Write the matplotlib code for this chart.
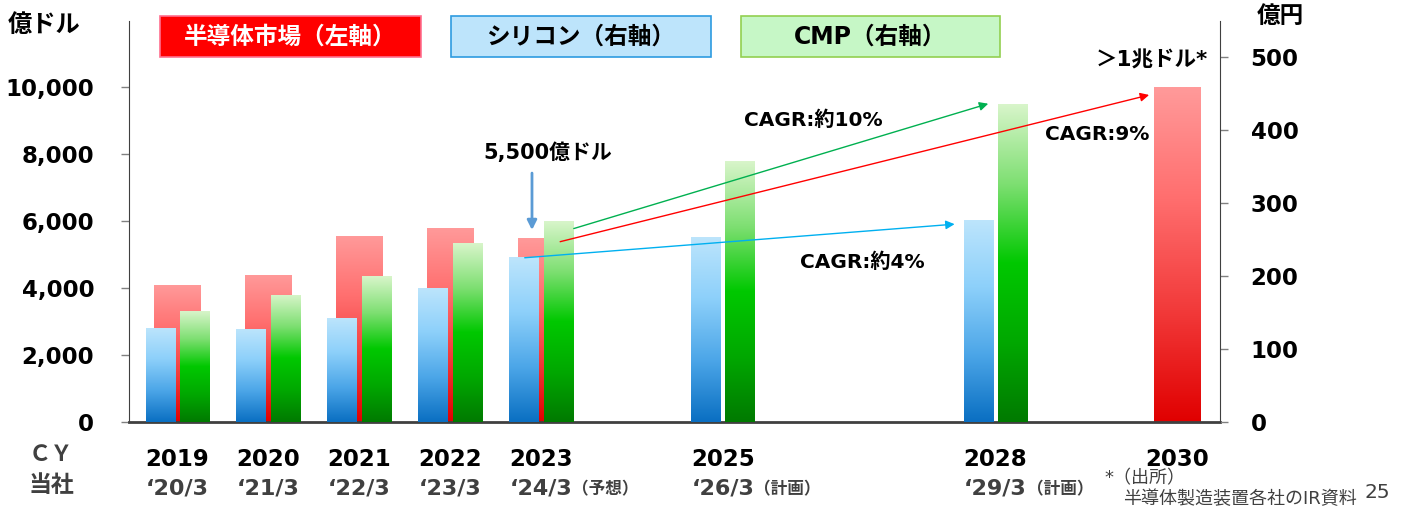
"""Semiconductor market vs silicon / CMP market, with CAGR arrows."""

import numpy as np
import matplotlib.pyplot as plt
from matplotlib.colors import LinearSegmentedColormap
from matplotlib.patches import Rectangle
from matplotlib.ticker import FuncFormatter
import matplotlib.transforms as mtransforms

plt.rcParams['font.family'] = ['DejaVu Sans', 'Noto Sans CJK JP']

W, H = 1404, 512

# data
years = [2019, 2020, 2021, 2022, 2023, 2025, 2028, 2030]
fiscal = ['‘20/3', '‘21/3', '‘22/3', '‘23/3', '‘24/3', '‘26/3', '‘29/3', '']
fiscal_note = ['', '', '', '', '（予想）', '（計画）', '（計画）', '']
market = [4100, 4400, 5560, 5800, 5500, np.nan, np.nan, 10000]   # 億ドル, left
silicon = [129, 128, 143, 184, 226, 254, 277, np.nan]            # 億円, right
cmp_ = [152, 174, 200, 245, 275, 357, 435, np.nan]               # 億円, right

left_ticks = [0, 2000, 4000, 6000, 8000, 10000]
right_ticks = [0, 100, 200, 300, 400, 500]

# CAGR arrows (right-axis coords): start, end, colour
arrows = [
    ((4.36, 265), (8.92, 436), '#00B050'),
    ((4.21, 247), (10.69, 448), '#FF0000'),
    ((3.82, 225), (8.55, 271), '#00B0F0'),
]

BLUE = ['#0A6FC2', '#4CA6E8', '#8DD0FA', '#BDE5FC']
GREEN = ['#007A00', '#00A800', '#00C800', '#7EDF72', '#D8F5CA']
RED = ['#E00000', '#F23A3A', '#FF6E6E', '#FF9A9A']


def px(x, y):
    return x / W, 1 - y / H


def gradient_bar(axis, x, h, w, colors, z):
    if np.isnan(h):
        return
    patch = axis.bar(x, h, w, color='none', linewidth=0, zorder=z)[0]
    cmap = LinearSegmentedColormap.from_list('g', colors)
    grad = np.linspace(0, 1, 256).reshape(-1, 1)
    im = axis.imshow(grad, cmap=cmap, extent=(x - w / 2, x + w / 2, 0, h),
                     origin='lower', aspect='auto', zorder=z,
                     interpolation='bilinear')
    im.set_clip_path(patch)


fig = plt.figure(figsize=(W / 100, H / 100), dpi=100)
ax = fig.add_axes([129 / W, 1 - 422 / H, (1220 - 129) / W, (422 - 20.5) / H])
ax2 = ax.twinx()

xs = [y - 2019 for y in years]
for x, m, s, c in zip(xs, market, silicon, cmp_):
    gradient_bar(ax, x + 0.005, m, 0.517, RED, 2)
    gradient_bar(ax2, x - 0.187, s, 0.33, BLUE, 2)
    gradient_bar(ax2, x + 0.187, c, 0.32, GREEN, 2)

ax.set_xlim(-0.534, 11.47)
ax.set_ylim(0, 12000)
ax2.set_ylim(0, 550)
ax.set_xticks([])

ax.set_yticks(left_ticks)
ax2.set_yticks(right_ticks)
ax.yaxis.set_major_formatter(FuncFormatter(lambda v, p: f'{int(v):,}'))
for a in (ax, ax2):
    a.spines['top'].set_visible(False)
    a.tick_params(axis='y', length=6, width=1, color='#808080', labelsize=16.5)
    for t in a.get_yticklabels():
        t.set_fontweight('bold')
ax.tick_params(axis='y', pad=19)
ax2.tick_params(axis='y', pad=16)
ax.spines['left'].set_color('#404040')
ax2.spines['right'].set_color('#404040')
ax2.spines['left'].set_visible(False)
ax2.spines['bottom'].set_visible(False)
ax.spines['right'].set_visible(False)
ax.spines['bottom'].set_color('#404040')
ax.spines['bottom'].set_linewidth(2)

# CAGR arrows
for start, end, col in arrows:
    ax2.annotate('', xy=end, xytext=start,
                 arrowprops=dict(arrowstyle='-|>', color=col, lw=1,
                                 mutation_scale=13, shrinkA=0, shrinkB=0),
                 zorder=6)
# 5,500 arrow
ax2.annotate('', xy=(3.90, 263), xytext=(3.90, 341),
             arrowprops=dict(arrowstyle='-|>', color='#5B9BD5', lw=2,
                             mutation_scale=14, shrinkA=0, shrinkB=0),
             zorder=6)

# x labels
trans = mtransforms.blended_transform_factory(ax.transData, fig.transFigure)
for x, yr, fy, note in zip(xs, years, fiscal, fiscal_note):
    ax.text(x, px(0, 460)[1], str(yr), transform=trans, ha='center',
            va='center', fontsize=16.5, fontweight='bold', clip_on=False)
    if fy:
        t = ax.text(x, px(0, 488)[1], fy, transform=trans, ha='center',
                    va='center', fontsize=16, fontweight='bold',
                    color='#404040', clip_on=False)
        if note:
            ax.annotate(note, xy=(1, 0.45), xycoords=t, ha='left',
                        va='center', fontsize=12, fontweight='bold',
                        color='#404040')

fig.text(*px(29, 455), 'ＣＹ', ha='left', va='center', fontsize=16,
         fontweight='bold', color='#404040')
fig.text(*px(29, 485), '当社', ha='left', va='center', fontsize=16.5,
         fontweight='bold', color='#404040')

# axis unit labels
fig.text(*px(8, 25), '億ドル', ha='left', va='center', fontsize=17.5,
         fontweight='bold')
fig.text(*px(1280, 16), '億円', ha='center', va='center', fontsize=17,
         fontweight='bold')

# legend boxes
boxes = [
    ((160, 421), '半導体市場（左軸）', '#FF0000', '#FF6F8F', 'white'),
    ((451, 711), 'シリコン（右軸）', '#BDE4FB', '#2E9BE0', 'black'),
    ((741, 1000), 'CMP（右軸）', '#C6F7C6', '#92D050', 'black'),
]
for (x0, x1), label, fc, ec, tc in boxes:
    fig.patches.append(Rectangle(px(x0, 57), (x1 - x0) / W, 41 / H,
                                 transform=fig.transFigure, facecolor=fc,
                                 edgecolor=ec, linewidth=1.2))
    fig.text(*px((x0 + x1) / 2, 37), label, ha='center', va='center',
             fontsize=17, fontweight='bold', color=tc)

# annotations
fig.text(*px(548, 153), '5,500億ドル', ha='center', va='center',
         fontsize=15, fontweight='bold')
fig.text(*px(744, 120), 'CAGR:約10%', ha='left', va='center',
         fontsize=14.5, fontweight='bold')
fig.text(*px(1045, 135), 'CAGR:9%', ha='left', va='center',
         fontsize=14.5, fontweight='bold')
fig.text(*px(800, 262), 'CAGR:約4%', ha='left', va='center',
         fontsize=14.5, fontweight='bold')
fig.text(*px(1096, 60), '＞1兆ドル*', ha='left', va='center',
         fontsize=15.5, fontweight='bold')

# footnote
fig.text(*px(1104, 478), '*（出所）', ha='left', va='center', fontsize=13,
         color='#404040')
fig.text(*px(1123, 499), '半導体製造装置各社のIR資料', ha='left', va='center',
         fontsize=13, color='#404040')
fig.text(*px(1365, 493), '25', ha='left', va='center', fontsize=14.5,
         color='#404040')

fig.savefig('out.png', dpi=100)
